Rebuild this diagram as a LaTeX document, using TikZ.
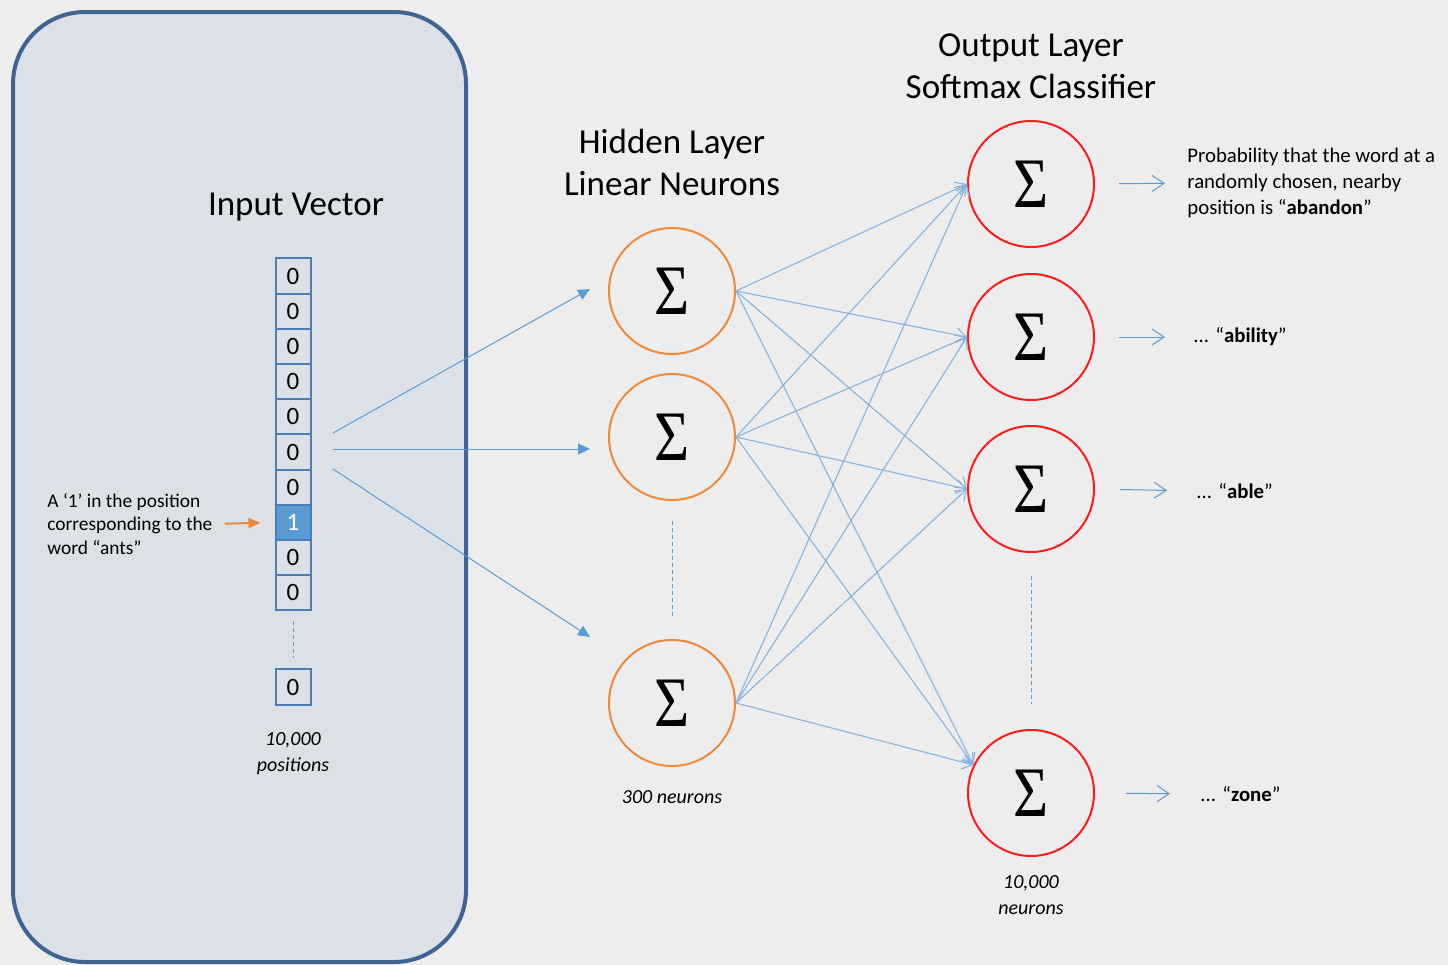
\documentclass[tikz,border=0pt]{standalone}
\usepackage{fontspec}
\setmainfont{Carlito}
\newfontfamily\sigfont{Liberation Serif}
\usepackage{graphicx}
\usetikzlibrary{arrows.meta, positioning}
\definecolor{bggray}{HTML}{EDEDED}
\definecolor{panelfill}{HTML}{DCE1E8}
\definecolor{paneldraw}{HTML}{3F6393}
\definecolor{cellblue}{HTML}{4A7EB5}
\definecolor{hotblue}{HTML}{5B9BD5}
\definecolor{linkblue}{HTML}{5B9BD5}
\definecolor{wireblue}{HTML}{86B4E0}
\definecolor{hidorange}{HTML}{F0883A}
\definecolor{outred}{HTML}{FF1A1A}
\newcommand\sig{\scalebox{0.85}[1]{\sigfont Σ}}

\begin{document}
\begin{tikzpicture}[
      x=0.5pt, y=-0.5pt,
      node distance=6pt and 6pt,
      title/.style={font=\fontsize{17.5}{21}\selectfont, align=center},
      note/.style={font=\fontsize{9.7}{11.8}\selectfont, align=left, inner sep=0pt},
      count/.style={font=\fontsize{10}{13}\selectfont\itshape, align=center},
      vcell/.style={rectangle, draw=cellblue, line width=1pt, fill=panelfill,
                    minimum width=17.5pt, minimum height=17.6pt, inner sep=0pt,
                    font=\fontsize{12.5}{14}\selectfont},
      hcell/.style={vcell, fill=hotblue, text=white},
      neuron/.style={circle, line width=1pt, minimum size=63pt, inner sep=0pt,
                     font=\fontsize{35.5}{35.5}\selectfont},
      hneuron/.style={neuron, draw=hidorange},
      oneuron/.style={neuron, draw=outred},
      inlink/.style={draw=linkblue, line width=0.5pt, -{Triangle[length=6pt,width=5.5pt]}},
      wire/.style={draw=wireblue, line width=0.55pt, -{Straight Barb[length=5pt,width=7pt]}},
      outlink/.style={draw=linkblue, line width=0.5pt, -{Straight Barb[length=6pt,width=8pt]}},
      gap/.style={draw=linkblue, line width=0.5pt, dash pattern=on 2pt off 1.5pt},
      wordout/.style={note, font=\fontsize{10.4}{13}\selectfont, anchor=west},
    ]
      % page and input panel
      \fill[bggray] (0,0) rectangle (1448,965);
      \draw[fill=panelfill, draw=paneldraw, line width=2pt, rounded corners=36pt]
        (13,12) rectangle (466,962);

      % input vector
      \node[title] (invec) at (296,207) {Input Vector};
      \foreach \i/\v/\s in {1/0/vcell, 2/0/vcell, 3/0/vcell, 4/0/vcell, 5/0/vcell,
                            6/0/vcell, 7/0/vcell, 8/1/hcell, 9/0/vcell, 10/0/vcell}
        \node[\s] (c\i) at (293, 240.8+35.2*\i) {\v};
      \node[vcell] (clast) at (293,687) {0};
      \node[count] (npos) at (293,754) {10,000\\positions};
      \node[note, anchor=west] (ants) at (47,524)
        {A ‘1’ in the position\\corresponding to the\\word “ants”};
      \draw[gap, shorten <=5pt, shorten >=5pt] (c10.south) -- (clast.north);
      \draw[draw=hidorange, line width=1pt, -{Triangle[length=6pt,width=5pt]},
            shorten <=6pt, shorten >=7pt] (ants.east) -- (c8.west);

      % hidden layer
      \node[title] (hid) at (672,162) {Hidden Layer\\Linear Neurons};
      \node[hneuron] (h1) at (672,291) {\sig};
      \node[hneuron] (h2) at (672,437) {\sig};
      \node[hneuron] (h3) at (672,703) {\sig};
      \node[count] (nhid) at (672,797) {300 neurons};
      \draw[gap, shorten <=10pt, shorten >=11.5pt] (h2.south) -- (h3.north);

      % output layer
      \node[title] (outl) at (1031,66) {Output Layer\\Softmax Classifier};
      \node[oneuron] (o1) at (1031,184) {\sig};
      \node[oneuron] (o2) at (1031,337) {\sig};
      \node[oneuron] (o3) at (1031,489) {\sig};
      \node[oneuron] (o4) at (1031,793) {\sig};
      \node[count] (nout) at (1031,895) {10,000\\neurons};
      \draw[gap, shorten <=11.5pt, shorten >=12.5pt] (o3.south) -- (o4.north);

      % input -> hidden
      \coordinate (s1) at (333,433);
      \coordinate (s2) at (333,449);
      \coordinate (s3) at (333,469);
      \coordinate (t1) at (590,289);
      \coordinate (t2) at (590,449);
      \coordinate (t3) at (590,637);
      \foreach \i in {1,2,3}
        \draw[inlink] (s\i) -- (t\i);

      % hidden -> output
      \foreach \h in {1,2,3} {
        \foreach \o in {1,2,3}
          \draw[wire] (h\h.east) -- (o\o.west);
        \draw[wire] (h\h.east) -- (o4.154);
      }

      % softmax outputs
      \node[wordout] (p1) at (1187,183)
        {Probability that the word at a\\randomly chosen, nearby\\position is “\textbf{abandon}”};
      \node[wordout] (p2) at (1193,337) {... “\textbf{ability}”};
      \node[wordout] (p3) at (1196,491) {... “\textbf{able}”};
      \node[wordout] (p4) at (1200,794) {... “\textbf{zone}”};
      \foreach \i/\a/\b in {1/12/11, 2/12/14, 3/12.5/14.5, 4/15.5/15}
        \draw[outlink, shorten <=\a pt, shorten >=\b pt] (o\i.east) -- (p\i.west);
    \end{tikzpicture}
\end{document}
